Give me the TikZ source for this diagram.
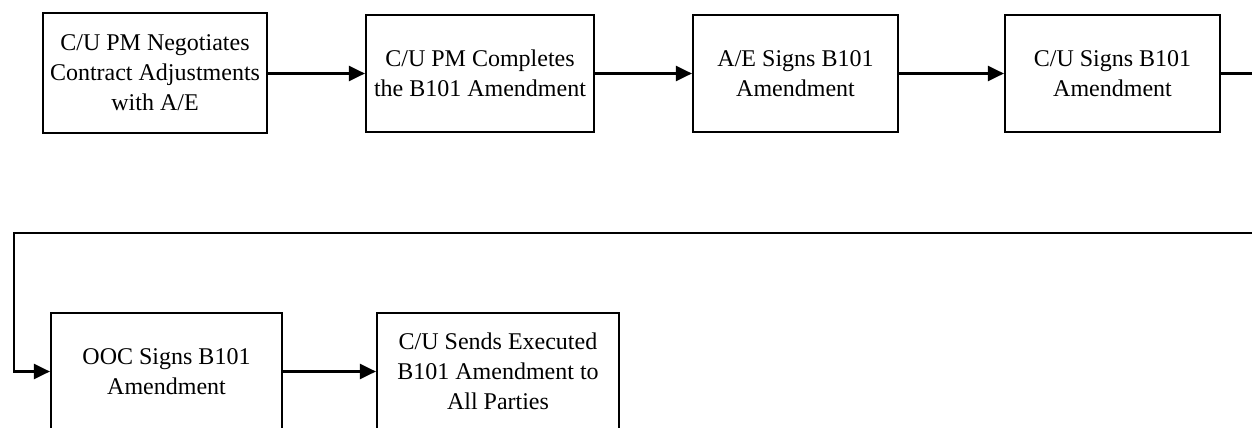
\documentclass[tikz,border=0pt]{standalone}
\usepackage{fontspec}
\setmainfont{Liberation Serif}
\usetikzlibrary{arrows.meta}
\tikzset{
  stepbox/.style={draw=black, line width=2.2pt, fill=white, align=center,
    inner sep=0pt, font=\fontsize{24}{30}\selectfont},
  flow/.style={line width=2.2pt, -{Triangle[length=16pt,width=15pt]}},
}
\begin{document}
\begin{tikzpicture}[x=1pt,y=-1pt]
  \useasboundingbox (0,0) rectangle (1252,428);
  \clip (0,0) rectangle (1252,428);

  % first row
  \node[stepbox, minimum width=224, minimum height=120] (b1) at (155,73)
    {C/U PM Negotiates\\Contract Adjustments\\with A/E};
  \node[stepbox, minimum width=228, minimum height=117] (b2) at (480,73.5)
    {C/U PM Completes\\the B101 Amendment};
  \node[stepbox, minimum width=205, minimum height=117] (b3) at (795.5,73.5)
    {A/E Signs B101\\Amendment};
  \node[stepbox, minimum width=215, minimum height=117] (b4) at (1112.5,73.5)
    {C/U Signs B101\\Amendment};

  % second row
  \node[stepbox, minimum width=231, minimum height=117] (b5) at (166.5,371.5)
    {OOC Signs B101\\Amendment};
  \node[stepbox, minimum width=242, minimum height=117] (b6) at (498,371.5)
    {C/U Sends Executed\\B101 Amendment to\\All Parties};

  % return path leaves the right edge and wraps back to the second row
  \coordinate (r1) at (1262,73.5);
  \coordinate (r2) at (1262,233);
  \coordinate (l1) at (14,233);

  \draw[flow] (b1.east |- b2.west) -- (b2.west);
  \draw[flow] (b2) -- (b3);
  \draw[flow] (b3) -- (b4);
  \draw[flow, line join=miter] (b4.east) -- (r1) -- (r2) -- (l1) |- (b5.west);
  \draw[flow] (b5) -- (b6);
\end{tikzpicture}
\end{document}
